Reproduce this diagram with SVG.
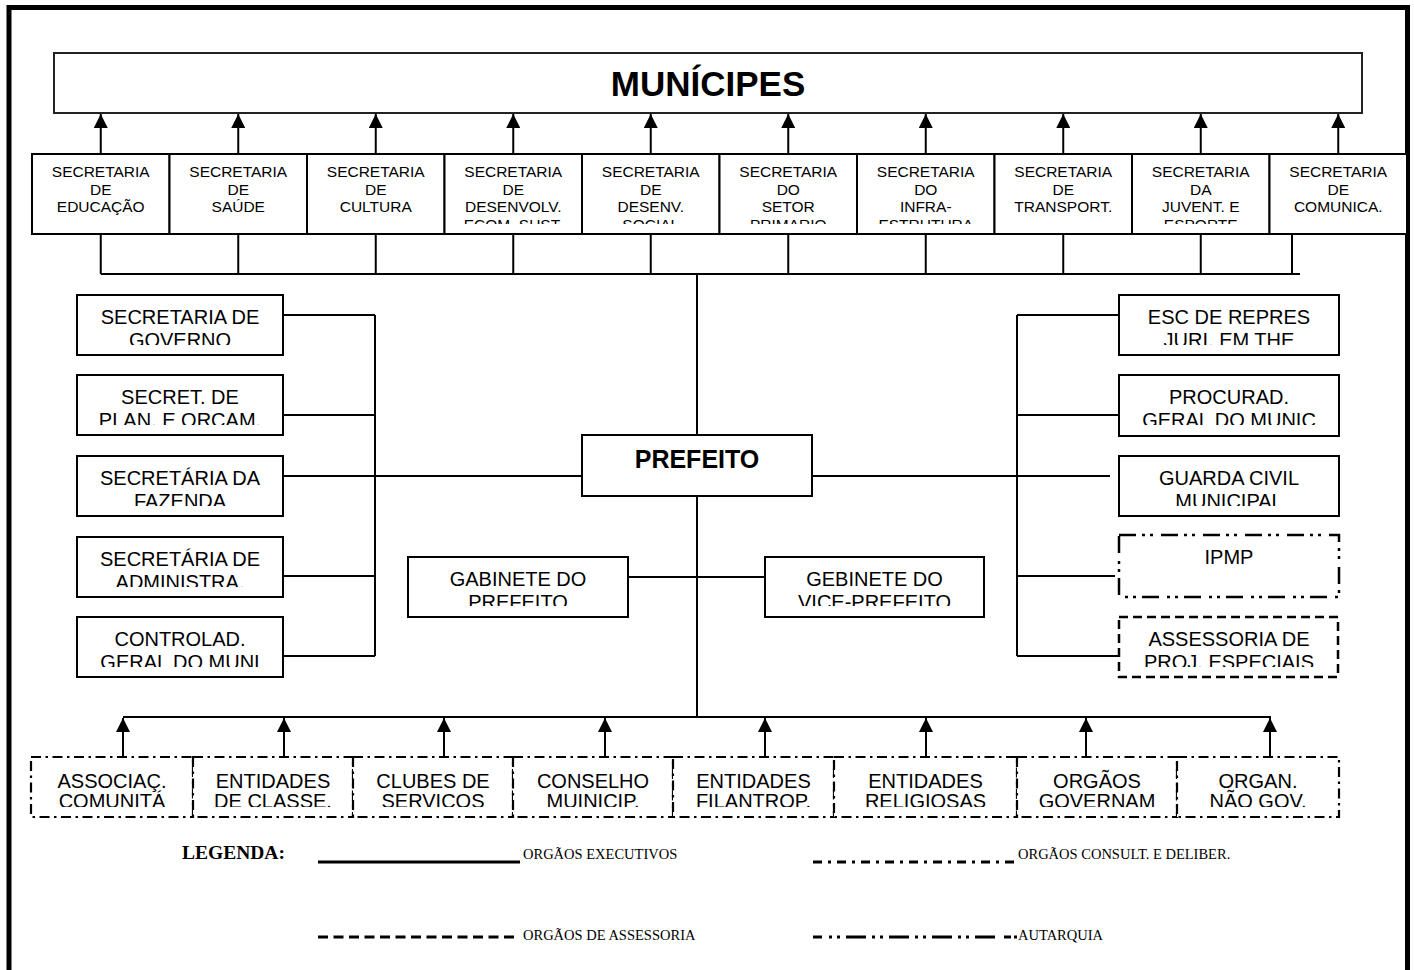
<svg xmlns="http://www.w3.org/2000/svg" width="1414" height="970" viewBox="0 0 1414 970">
<style>
.bx{fill:#fff;stroke:#000;stroke-width:2}
.ln{fill:none;stroke:#000;stroke-width:2}
.t15{font-family:"Liberation Sans",Arial,sans-serif;font-size:15.5px;text-anchor:middle;fill:#000}
.t20{font-family:"Liberation Sans",Arial,sans-serif;font-size:20px;text-anchor:middle;fill:#000}
.tb{font-family:"Liberation Sans",Arial,sans-serif;font-weight:bold;text-anchor:middle;fill:#000}
.consult{fill:#fff;stroke:#000;stroke-width:2.2;stroke-dasharray:10 4.5 2.5 4.5}
.autar{fill:#fff;stroke:#000;stroke-width:2.5;stroke-dasharray:17 6 3 5 3 8}
.assess{fill:#fff;stroke:#000;stroke-width:2.5;stroke-dasharray:9 5}
.lg{font-family:"Liberation Serif","Times New Roman",serif;font-size:14.5px;fill:#000}
</style>
<defs>
<marker id="ah" markerUnits="userSpaceOnUse" markerWidth="14" markerHeight="14" viewBox="0 0 14 14" refX="14" refY="7" orient="auto">
<path d="M0,0 L14,7 L0,14 z" fill="#000"/>
</marker>
<clipPath id="cTop" clipPathUnits="userSpaceOnUse"><rect x="0" y="150" width="1414" height="74"/></clipPath>
<clipPath id="cR1" clipPathUnits="userSpaceOnUse"><rect x="0" y="290" width="1414" height="55"/></clipPath>
<clipPath id="cR2" clipPathUnits="userSpaceOnUse"><rect x="0" y="370" width="1414" height="55"/></clipPath>
<clipPath id="cR3" clipPathUnits="userSpaceOnUse"><rect x="0" y="451" width="1414" height="55"/></clipPath>
<clipPath id="cR4" clipPathUnits="userSpaceOnUse"><rect x="0" y="532" width="1414" height="55"/></clipPath>
<clipPath id="cR5" clipPathUnits="userSpaceOnUse"><rect x="0" y="612" width="1414" height="55"/></clipPath>
<clipPath id="cGab" clipPathUnits="userSpaceOnUse"><rect x="0" y="552" width="1414" height="54"/></clipPath>
<clipPath id="cBot" clipPathUnits="userSpaceOnUse"><rect x="0" y="750" width="1414" height="57"/></clipPath>
</defs>
<rect width="1414" height="970" fill="#fff"/>
<path id="frame" d="M9,970 V7.5 H1407.5 V970" fill="none" stroke="#000" stroke-width="5"/>

<g id="connectors">
<g class="ln" marker-end="url(#ah)">
<path d="M100.75,154 V114"/><path d="M238.25,154 V114"/><path d="M375.75,154 V114"/><path d="M513.25,154 V114"/><path d="M650.75,154 V114"/>
<path d="M788.25,154 V114"/><path d="M925.75,154 V114"/><path d="M1063.25,154 V114"/><path d="M1200.75,154 V114"/><path d="M1338.25,154 V114"/>
<path d="M123,757 V718"/><path d="M284,757 V718"/><path d="M444,757 V718"/><path d="M605,757 V718"/>
<path d="M765,757 V718"/><path d="M926,757 V718"/><path d="M1086,757 V718"/><path d="M1270,757 V718"/>
</g>
<g class="ln">
<path d="M100.75,234 V274 M238.25,234 V274 M375.75,234 V274 M513.25,234 V274 M650.75,234 V274 M788.25,234 V274 M925.75,234 V274 M1063.25,234 V274 M1200.75,234 V274 M1292,234 V274"/>
<path d="M100.75,274 H1300"/>
<path d="M697,274 V435 M697,496 V717"/>
<path d="M123,717 H1271"/>
<path d="M283,315 H375 M283,415 H375 M283,476 H582 M283,576 H375 M283,656 H375 M375,315 V656"/>
<path d="M1017,315 H1119 M1017,415 H1119 M812,476 H1110 M1017,576 H1115 M1017,656 H1119 M1017,315 V656"/>
<path d="M628,577 H765"/>
</g>
</g>

<g id="municipes">
<rect x="54" y="53" width="1308" height="60" fill="#fff" stroke="#222" stroke-width="2"/>
<text class="tb" x="708" y="96" font-size="35">MUNÍCIPES</text>
</g>

<g id="sec-educacao"><rect class="bx" x="32" y="154" width="137.5" height="80"/>
<text class="t15" clip-path="url(#cTop)"><tspan x="100.75" y="177">SECRETARIA</tspan><tspan x="100.75" y="194.7">DE</tspan><tspan x="100.75" y="212.4">EDUCAÇÃO</tspan></text></g>
<g id="sec-saude"><rect class="bx" x="169.5" y="154" width="137.5" height="80"/>
<text class="t15" clip-path="url(#cTop)"><tspan x="238.25" y="177">SECRETARIA</tspan><tspan x="238.25" y="194.7">DE</tspan><tspan x="238.25" y="212.4">SAÚDE</tspan></text></g>
<g id="sec-cultura"><rect class="bx" x="307" y="154" width="137.5" height="80"/>
<text class="t15" clip-path="url(#cTop)"><tspan x="375.75" y="177">SECRETARIA</tspan><tspan x="375.75" y="194.7">DE</tspan><tspan x="375.75" y="212.4">CULTURA</tspan></text></g>
<g id="sec-desenvolv"><rect class="bx" x="444.5" y="154" width="137.5" height="80"/>
<text class="t15" clip-path="url(#cTop)"><tspan x="513.25" y="177">SECRETARIA</tspan><tspan x="513.25" y="194.7">DE</tspan><tspan x="513.25" y="212.4">DESENVOLV.</tspan><tspan x="513.25" y="230.1">ECOM. SUST.</tspan></text></g>
<g id="sec-social"><rect class="bx" x="582" y="154" width="137.5" height="80"/>
<text class="t15" clip-path="url(#cTop)"><tspan x="650.75" y="177">SECRETARIA</tspan><tspan x="650.75" y="194.7">DE</tspan><tspan x="650.75" y="212.4">DESENV.</tspan><tspan x="650.75" y="230.1">SOCIAL</tspan></text></g>
<g id="sec-primario"><rect class="bx" x="719.5" y="154" width="137.5" height="80"/>
<text class="t15" clip-path="url(#cTop)"><tspan x="788.25" y="177">SECRETARIA</tspan><tspan x="788.25" y="194.7">DO</tspan><tspan x="788.25" y="212.4">SETOR</tspan><tspan x="788.25" y="230.1">PRIMARIO</tspan></text></g>
<g id="sec-infra"><rect class="bx" x="857" y="154" width="137.5" height="80"/>
<text class="t15" clip-path="url(#cTop)"><tspan x="925.75" y="177">SECRETARIA</tspan><tspan x="925.75" y="194.7">DO</tspan><tspan x="925.75" y="212.4">INFRA-</tspan><tspan x="925.75" y="230.1">ESTRUTURA</tspan></text></g>
<g id="sec-transport"><rect class="bx" x="994.5" y="154" width="137.5" height="80"/>
<text class="t15" clip-path="url(#cTop)"><tspan x="1063.25" y="177">SECRETARIA</tspan><tspan x="1063.25" y="194.7">DE</tspan><tspan x="1063.25" y="212.4">TRANSPORT.</tspan></text></g>
<g id="sec-juvent"><rect class="bx" x="1132" y="154" width="137.5" height="80"/>
<text class="t15" clip-path="url(#cTop)"><tspan x="1200.75" y="177">SECRETARIA</tspan><tspan x="1200.75" y="194.7">DA</tspan><tspan x="1200.75" y="212.4">JUVENT. E</tspan><tspan x="1200.75" y="230.1">ESPORTE</tspan></text></g>
<g id="sec-comunica"><rect class="bx" x="1269.5" y="154" width="137.5" height="80"/>
<text class="t15" clip-path="url(#cTop)"><tspan x="1338.25" y="177">SECRETARIA</tspan><tspan x="1338.25" y="194.7">DE</tspan><tspan x="1338.25" y="212.4">COMUNICA.</tspan></text></g>

<g id="sec-governo"><rect class="bx" x="77" y="295" width="206" height="60"/>
<text class="t20" clip-path="url(#cR1)"><tspan x="180" y="323.5">SECRETARIA DE</tspan><tspan x="180" y="347">GOVERNO</tspan></text></g>
<g id="sec-plan"><rect class="bx" x="77" y="375" width="206" height="60"/>
<text class="t20" clip-path="url(#cR2)"><tspan x="180" y="403.5">SECRET. DE</tspan><tspan x="180" y="427">PLAN. E ORCAM.</tspan></text></g>
<g id="sec-fazenda"><rect class="bx" x="77" y="456" width="206" height="60"/>
<text class="t20" clip-path="url(#cR3)"><tspan x="180" y="484.5">SECRETÁRIA DA</tspan><tspan x="180" y="508">FAZENDA</tspan></text></g>
<g id="sec-admin"><rect class="bx" x="77" y="537" width="206" height="60"/>
<text class="t20" clip-path="url(#cR4)"><tspan x="180" y="565.5">SECRETÁRIA DE</tspan><tspan x="180" y="589">ADMINISTRA.</tspan></text></g>
<g id="controlad"><rect class="bx" x="77" y="617" width="206" height="60"/>
<text class="t20" clip-path="url(#cR5)"><tspan x="180" y="645.5">CONTROLAD.</tspan><tspan x="180" y="669">GERAL DO MUNI</tspan></text></g>

<g id="esc-repres"><rect class="bx" x="1119" y="295" width="220" height="60"/>
<text class="t20" clip-path="url(#cR1)"><tspan x="1229" y="323.5">ESC DE REPRES</tspan><tspan x="1229" y="347">JURI. EM THE</tspan></text></g>
<g id="procurad"><rect class="bx" x="1119" y="375" width="220" height="61"/>
<text class="t20" clip-path="url(#cR2)"><tspan x="1229" y="403.5">PROCURAD.</tspan><tspan x="1229" y="427">GERAL DO MUNIC</tspan></text></g>
<g id="guarda"><rect class="bx" x="1119" y="456" width="220" height="60"/>
<text class="t20" clip-path="url(#cR3)"><tspan x="1229" y="484.5">GUARDA CIVIL</tspan><tspan x="1229" y="508">MUNICIPAL</tspan></text></g>
<g id="ipmp"><rect class="autar" x="1119" y="535" width="220" height="62"/>
<text class="t20" x="1229" y="564">IPMP</text></g>
<g id="assessoria"><rect class="assess" x="1119" y="617" width="219" height="60"/>
<text class="t20" clip-path="url(#cR5)"><tspan x="1229" y="645.5">ASSESSORIA DE</tspan><tspan x="1229" y="669">PROJ. ESPECIAIS</tspan></text></g>

<g id="prefeito"><rect class="bx" x="582" y="435" width="230" height="61"/>
<text class="tb" x="697" y="468" font-size="25">PREFEITO</text></g>
<g id="gabinete"><rect class="bx" x="408" y="557" width="220" height="60"/>
<text class="t20" clip-path="url(#cGab)"><tspan x="518" y="585.5">GABINETE DO</tspan><tspan x="518" y="609">PREFEITO</tspan></text></g>
<g id="gabinete-vice"><rect class="bx" x="765" y="557" width="219" height="60"/>
<text class="t20" clip-path="url(#cGab)"><tspan x="874.5" y="585.5">GEBINETE DO</tspan><tspan x="874.5" y="609">VICE-PREFEITO</tspan></text></g>

<g id="assoc"><rect class="consult" x="31" y="757" width="162" height="60"/>
<text class="t20" clip-path="url(#cBot)"><tspan x="112" y="788">ASSOCIAÇ.</tspan><tspan x="112" y="808">COMUNITÁ</tspan></text></g>
<g id="ent-classe"><rect class="consult" x="193" y="757" width="160" height="60"/>
<text class="t20" clip-path="url(#cBot)"><tspan x="273" y="788">ENTIDADES</tspan><tspan x="273" y="808">DE CLASSE.</tspan></text></g>
<g id="clubes"><rect class="consult" x="353" y="757" width="160" height="60"/>
<text class="t20" clip-path="url(#cBot)"><tspan x="433" y="788">CLUBES DE</tspan><tspan x="433" y="808">SERVICOS</tspan></text></g>
<g id="conselho"><rect class="consult" x="513" y="757" width="160" height="60"/>
<text class="t20" clip-path="url(#cBot)"><tspan x="593" y="788">CONSELHO</tspan><tspan x="593" y="808">MUINICIP.</tspan></text></g>
<g id="ent-filantrop"><rect class="consult" x="673" y="757" width="161" height="60"/>
<text class="t20" clip-path="url(#cBot)"><tspan x="753.5" y="788">ENTIDADES</tspan><tspan x="753.5" y="808">FILANTROP.</tspan></text></g>
<g id="ent-religiosas"><rect class="consult" x="834" y="757" width="183" height="60"/>
<text class="t20" clip-path="url(#cBot)"><tspan x="925.5" y="788">ENTIDADES</tspan><tspan x="925.5" y="808">RELIGIOSAS</tspan></text></g>
<g id="orgaos-gov"><rect class="consult" x="1017" y="757" width="160" height="60"/>
<text class="t20" clip-path="url(#cBot)"><tspan x="1097" y="788">ORGÃOS</tspan><tspan x="1097" y="808">GOVERNAM</tspan></text></g>
<g id="organ-nao-gov"><rect class="consult" x="1177" y="757" width="162" height="60"/>
<text class="t20" clip-path="url(#cBot)"><tspan x="1258" y="788">ORGAN.</tspan><tspan x="1258" y="808">NÃO GOV.</tspan></text></g>

<g id="legend">
<text x="182" y="859" font-family="'Liberation Serif','Times New Roman',serif" font-weight="bold" font-size="19.5" fill="#000">LEGENDA:</text>
<path d="M318,862 H520" stroke="#000" stroke-width="2.8" fill="none"/>
<text class="lg" x="523" y="859">ORGÃOS EXECUTIVOS</text>
<path d="M813,862 H1017" stroke="#000" stroke-width="2.8" fill="none" stroke-dasharray="9 6 3 6"/>
<text class="lg" x="1018" y="859">ORGÃOS CONSULT. E DELIBER.</text>
<path d="M318,937 H517" stroke="#000" stroke-width="2.8" fill="none" stroke-dasharray="10 5.5"/>
<text class="lg" x="523" y="940">ORGÃOS DE ASSESSORIA</text>
<path d="M813,937 H1017" stroke="#000" stroke-width="2.8" fill="none" stroke-dasharray="9 7 3 5 3 6 20 6 3 5 3 6 20 6 3 5 3 6 20 6 3 5 3 6 20"/>
<text class="lg" x="1018" y="940">AUTARQUIA</text>
</g>
</svg>
